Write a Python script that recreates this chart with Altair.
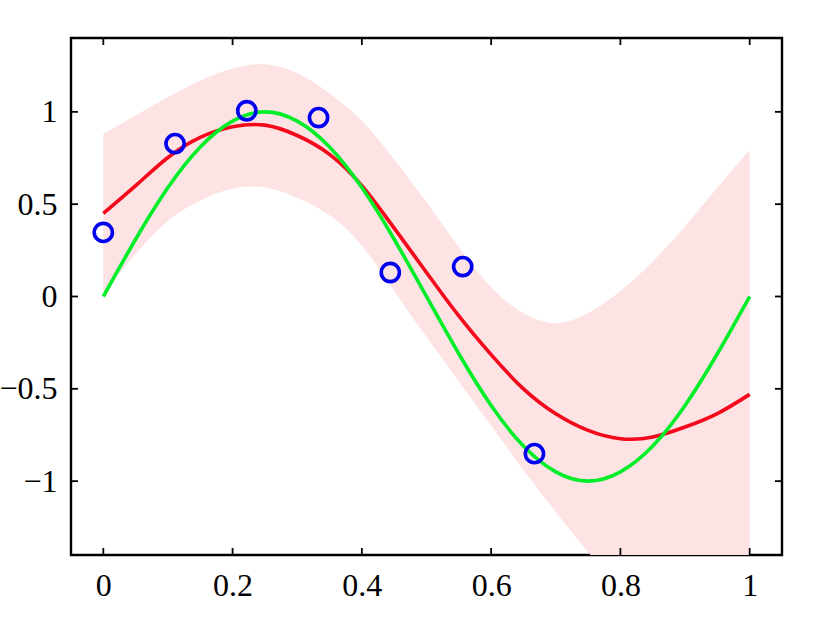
import altair as alt
import pandas as pd

# Curve sample positions
curve_x = [0.0, 0.05, 0.1, 0.15, 0.2, 0.25, 0.3, 0.35, 0.4, 0.45, 0.5,
           0.55, 0.6, 0.65, 0.7, 0.75, 0.8, 0.85, 0.9, 0.95, 1.0]
# Green: true function
green_y = [0.0, 0.31, 0.59, 0.81, 0.95, 1.0, 0.95, 0.81, 0.59, 0.31, 0.0,
           -0.31, -0.59, -0.81, -0.95, -1.0, -0.95, -0.81, -0.59, -0.31, 0.0]
# Red: predictive mean
red_y = [0.45, 0.60, 0.753, 0.862, 0.919, 0.928, 0.872, 0.77, 0.60, 0.37, 0.13,
         -0.105, -0.315, -0.50, -0.635, -0.725, -0.77, -0.761, -0.707, -0.634, -0.53]
# Pink band: upper / lower edges
band_hi = [0.88, 0.98, 1.08, 1.17, 1.235, 1.258, 1.21, 1.10, 0.95, 0.743, 0.51,
           0.267, 0.05, -0.09, -0.145, -0.09, 0.03, 0.19, 0.38, 0.59, 0.793]
band_lo = [0.02, 0.23, 0.41, 0.52, 0.585, 0.59, 0.535, 0.44, 0.275, 0.03, -0.22,
           -0.46, -0.70, -0.94, -1.167, -1.384, -1.574, -1.72, -1.83, -1.88, -1.853]
# Observations
obs_x = [0.0, 0.111, 0.222, 0.333, 0.444, 0.556, 0.667]
obs_y = [0.347, 0.828, 1.006, 0.969, 0.130, 0.162, -0.851]
# Tick values
x_ticks = [0, 0.2, 0.4, 0.6, 0.8, 1]
y_ticks = [-1, -0.5, 0, 0.5, 1]

W, H = 711, 517
curves = pd.DataFrame({"x": curve_x, "g": green_y, "r": red_y, "hi": band_hi, "lo": band_lo})
obs = pd.DataFrame({"x": obs_x, "y": obs_y})
xt = pd.DataFrame({"v": x_ticks})
yt = pd.DataFrame({"v": y_ticks})

FONT = "Liberation Serif"
LBL = "replace(datum.label, '-', '\u2212')"
xs = alt.Scale(domain=[-0.05, 1.05], nice=False, zero=False)
ys = alt.Scale(domain=[-1.4, 1.4], nice=False, zero=False)
xax = alt.Axis(values=x_ticks, format="~g", ticks=False, domain=False, grid=False,
               labelFont=FONT, labelFontSize=32, labelColor="black", labelPadding=15,
               title=None, labelFlush=False)
yax = alt.Axis(values=y_ticks, format="~g", labelExpr=LBL, ticks=False, domain=False,
               grid=False, labelFont=FONT, labelFontSize=32, labelColor="black",
               labelPadding=14, title=None)

band = alt.Chart(curves).mark_area(color="#fde3e3", interpolate="natural", clip=True).encode(
    x=alt.X("x:Q", scale=xs, axis=xax),
    y=alt.Y("lo:Q", scale=ys, axis=yax),
    y2="hi:Q",
)
red = alt.Chart(curves).mark_line(color="#f5081c", strokeWidth=3.6, interpolate="natural", clip=True).encode(
    x=alt.X("x:Q", scale=xs), y=alt.Y("r:Q", scale=ys))
green = alt.Chart(curves).mark_line(color="#00ee2a", strokeWidth=3.6, interpolate="natural", clip=True).encode(
    x=alt.X("x:Q", scale=xs), y=alt.Y("g:Q", scale=ys))
pts = alt.Chart(obs).mark_point(shape="circle", filled=False, color="#0000f0", size=330,
                                strokeWidth=3.6, opacity=1).encode(
    x=alt.X("x:Q", scale=xs), y=alt.Y("y:Q", scale=ys))

tick_style = dict(color="black", strokeWidth=1.8)
xt_bot = alt.Chart(xt).mark_rule(**tick_style).encode(
    x=alt.X("v:Q", scale=xs), y=alt.value(H), y2=alt.value(H - 7))
xt_top = alt.Chart(xt).mark_rule(**tick_style).encode(
    x=alt.X("v:Q", scale=xs), y=alt.value(0), y2=alt.value(7))
yt_left = alt.Chart(yt).mark_rule(**tick_style).encode(
    y=alt.Y("v:Q", scale=ys), x=alt.value(0), x2=alt.value(7))
yt_right = alt.Chart(yt).mark_rule(**tick_style).encode(
    y=alt.Y("v:Q", scale=ys), x=alt.value(W), x2=alt.value(W - 7))

chart = alt.layer(band, red, green, pts, xt_bot, xt_top, yt_left, yt_right).properties(
    width=W, height=H,
    autosize=alt.AutoSizeParams(type="none"),
    padding={"left": 71, "top": 38, "right": 32, "bottom": 75},
).configure(background="white").configure_view(stroke="black", strokeWidth=2.4)

chart.save("out.html", embed_options={"renderer": "svg", "actions": False})
